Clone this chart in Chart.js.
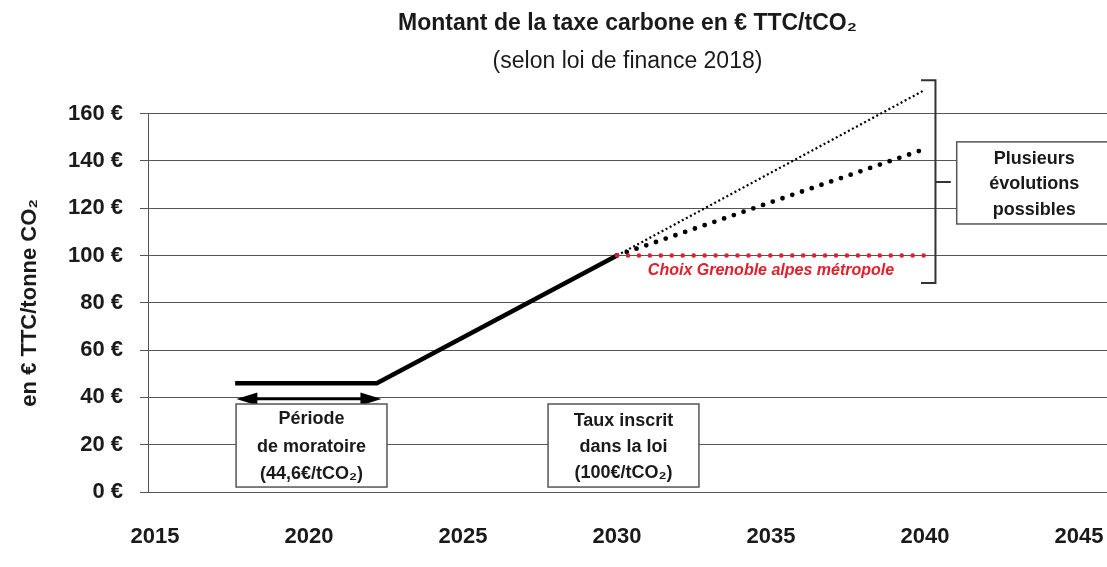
<!DOCTYPE html>
<html>
<head>
<meta charset="utf-8">
<script src="https://cdn.jsdelivr.net/npm/chart.js@4.4.1/dist/chart.umd.min.js"></script>
<style>
  html, body { margin: 0; padding: 0; background: #fff; }
  #wrap { width: 1107px; height: 567px; }
</style>
</head>
<body>
<div id="wrap"><canvas id="taxChart" width="1107" height="567"></canvas></div>
<script>
// tick labels
const YEAR_TICKS = [2015, 2020, 2025, 2030, 2035, 2040, 2045];
const EURO_TICKS = [0, 20, 40, 60, 80, 100, 120, 140, 160];

// loi de finance 2018 trajectory (moratoire then rise to 2030)
const lawYears = [2017.6, 2022.2, 2030];
const lawValues = [46, 46, 100];

// possible evolutions after 2030
const scenarioYears = [2030, 2040];
const highValues = [100, 170];
const midValues = [100, 145];
const grenobleValues = [100, 100];

const FONT = '"Liberation Sans", Arial, sans-serif';
const INK = '#1a1a1a';
const GRID = '#555';
const RED = '#e2202c';

function pts(xs, ys) {
    return xs.map((x, i) => ({ x: x, y: ys[i] }));
}

function noteBox(ctx, x1, y1, x2, y2, lines, size, gap) {
    ctx.fillStyle = '#fff';
    ctx.fillRect(x1, y1, x2 - x1, y2 - y1);
    ctx.strokeStyle = '#555';
    ctx.lineWidth = 1.5;
    ctx.strokeRect(x1, y1, x2 - x1, y2 - y1);
    ctx.fillStyle = INK;
    ctx.font = 'bold ' + size + 'px ' + FONT;
    ctx.textAlign = 'center';
    ctx.textBaseline = 'middle';
    const cx = (x1 + x2) / 2, cy = (y1 + y2) / 2 + 1.5;
    lines.forEach((t, i) => {
        ctx.fillText(t, cx, cy + (i - (lines.length - 1) / 2) * gap);
    });
}

const annotations = {
    id: 'annotations',
    afterDraw(chart) {
        const ctx = chart.ctx;
        const px = v => chart.scales.x.getPixelForValue(v);
        const py = v => chart.scales.y.getPixelForValue(v);
        ctx.save();

        // double arrow for the moratoire period
        const ax1 = px(2017.64), ax2 = px(2022.35), ay = py(39.3);
        ctx.strokeStyle = '#000';
        ctx.lineWidth = 2.5;
        ctx.beginPath();
        ctx.moveTo(ax1 + 10, ay);
        ctx.lineTo(ax2 - 10, ay);
        ctx.stroke();
        ctx.fillStyle = '#000';
        ctx.beginPath();
        ctx.moveTo(ax1, ay);
        ctx.lineTo(ax1 + 21, ay - 6.5);
        ctx.lineTo(ax1 + 21, ay + 6.5);
        ctx.closePath();
        ctx.fill();
        ctx.beginPath();
        ctx.moveTo(ax2, ay);
        ctx.lineTo(ax2 - 21, ay - 6.5);
        ctx.lineTo(ax2 - 21, ay + 6.5);
        ctx.closePath();
        ctx.fill();

        noteBox(ctx, px(2017.63), py(37.2), px(2022.53), py(2.1),
            ['Période', 'de moratoire', '(44,6€/tCO₂)'], 18, 27.5);
        noteBox(ctx, px(2027.76), py(37.2), px(2032.66), py(2.1),
            ['Taux inscrit', 'dans la loi', '(100€/tCO₂)'], 18, 26);

        // bracket grouping the scenarios
        const bx = px(2040.34);
        ctx.strokeStyle = '#333';
        ctx.lineWidth = 2;
        ctx.beginPath();
        ctx.moveTo(px(2039.87), py(174.1));
        ctx.lineTo(bx, py(174.1));
        ctx.lineTo(bx, py(88.3));
        ctx.lineTo(px(2039.87), py(88.3));
        ctx.moveTo(bx, py(131));
        ctx.lineTo(px(2040.84), py(131));
        ctx.stroke();

        noteBox(ctx, px(2041.03), py(148.0), chart.width + 5, py(113.3),
            ['Plusieurs', 'évolutions', 'possibles'], 18, 25.5);

        ctx.fillStyle = RED;
        ctx.font = 'italic bold 16px ' + FONT;
        ctx.textAlign = 'center';
        ctx.textBaseline = 'middle';
        ctx.fillText('Choix Grenoble alpes métropole', px(2035), py(93.4));
        ctx.restore();
    }
};

const ctx = document.getElementById('taxChart').getContext('2d');
const taxChart = new Chart(ctx, {
    type: 'line',
    data: {
        datasets: [{
            label: 'Choix Grenoble alpes métropole',
            data: pts(scenarioYears, grenobleValues),
            borderColor: RED,
            borderWidth: 4.6,
            borderDash: [0, 10.95],
            borderCapStyle: 'round',
            pointRadius: 0,
            clip: false
        }, {
            label: 'Évolution intermédiaire',
            data: pts(scenarioYears, midValues),
            borderColor: '#000',
            borderWidth: 4.8,
            borderDash: [0, 10.3],
            borderCapStyle: 'round',
            pointRadius: 0,
            clip: false
        }, {
            label: 'Évolution haute',
            data: pts(scenarioYears, highValues),
            borderColor: '#000',
            borderWidth: 2.2,
            borderDash: [2, 2.6],
            pointRadius: 0,
            clip: false
        }, {
            label: 'Loi de finance 2018',
            data: pts(lawYears, lawValues),
            borderColor: '#000',
            borderWidth: 4.5,
            pointRadius: 0,
            clip: false
        }]
    },
    options: {
        responsive: false,
        animation: false,
        layout: { padding: 0 },
        plugins: {
            legend: { display: false },
            tooltip: { enabled: false },
            title: {
                display: true,
                text: 'Montant de la taxe carbone en € TTC/tCO₂',
                fullSize: false,
                color: INK,
                font: { family: FONT, size: 23, weight: 'bold' },
                padding: { top: 10, bottom: 0 }
            },
            subtitle: {
                display: true,
                text: '(selon loi de finance 2018)',
                fullSize: false,
                color: INK,
                font: { family: FONT, size: 23, weight: 'normal' },
                padding: { top: 10.5, bottom: 37.8 }
            }
        },
        scales: {
            x: {
                type: 'linear',
                min: 2014.77,
                max: 2045.91,
                afterBuildTicks: s => { s.ticks = YEAR_TICKS.map(v => ({ value: v })); },
                afterFit: s => { s.height = 75; s.paddingLeft = 0; s.paddingRight = 0; },
                ticks: {
                    callback: v => String(v),
                    autoSkip: false,
                    maxRotation: 0,
                    color: INK,
                    font: { family: FONT, size: 22, weight: 'bold' },
                    padding: 32
                },
                grid: { display: false, drawTicks: false },
                border: { display: false }
            },
            y: {
                min: 0,
                max: 160,
                afterBuildTicks: s => { s.ticks = EURO_TICKS.map(v => ({ value: v })); },
                afterFit: s => { s.width = 148; },
                ticks: {
                    callback: v => v + ' €',
                    color: INK,
                    font: { family: FONT, size: 22, weight: 'bold' },
                    padding: 17
                },
                grid: { color: GRID, lineWidth: 1, tickLength: 8 },
                border: { display: true, color: GRID, width: 1 },
                title: {
                    display: true,
                    text: 'en € TTC/tonne CO₂',
                    color: INK,
                    font: { family: FONT, size: 22, weight: 'bold' },
                    padding: { top: 17, bottom: 0 }
                }
            }
        }
    },
    plugins: [annotations]
});
</script>
</body>
</html>
